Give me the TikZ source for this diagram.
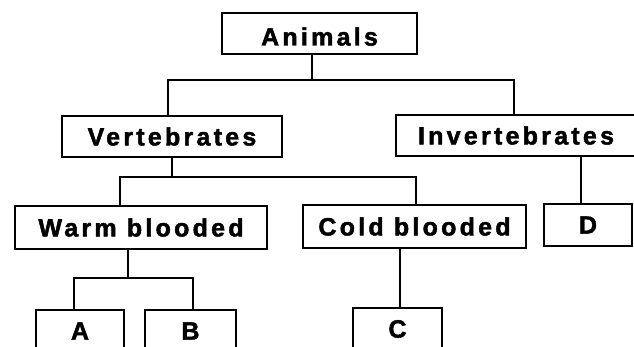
\documentclass[tikz,border=0pt]{standalone}
\usepackage{fontspec}
\setmainfont{Liberation Sans}
\newfontfamily\boxfont{Liberation Sans}[LetterSpace=13, BoldFont={Liberation Sans Bold}, BoldFeatures={FakeBold=1.8}]
\begin{document}
\begin{tikzpicture}[x=1pt,y=-1pt,
  box/.style={draw=black, line width=2.2pt, rectangle, inner sep=0pt,
    font=\boxfont\bfseries\fontsize{25}{28}\selectfont, text=black},
  link/.style={draw=black, line width=2.2pt}]
\clip (0,0) rectangle (634,347);
\fill[white] (0,0) rectangle (634,347);
% level 0
\node[box, minimum width=195pt, minimum height=41pt, text height=24pt, text depth=0pt] (ani) at (319.5,33.5) {Animals};
% level 1
\node[box, minimum width=220pt, minimum height=41pt] (ver) at (172,136.5) {Vertebrates};
\node[box, minimum width=240pt, minimum height=41pt] (inv) at (516,135.5) {Invertebrates};
% level 2
\node[box, minimum width=252pt, minimum height=43pt] (warm) at (141,227.5) {Warm blooded};
\node[box, minimum width=223pt, minimum height=43pt] (cold) at (414.5,226.5) {Cold blooded};
\node[box, minimum width=88pt, minimum height=42pt] (d) at (588,225) {D};
% level 3
\node[box, minimum width=88pt, minimum height=42pt] (a) at (80,331) {A};
\node[box, minimum width=91pt, minimum height=42pt] (b) at (190.5,331) {B};
\node[box, minimum width=89pt, minimum height=42pt] (c) at (397.5,329) {C};
% junctions
\coordinate (j0) at (312,80);
\coordinate (j1) at (172,177);
\coordinate (j2) at (128,278);
% connectors
\draw[link] (ani.south -| j0) -- (j0);
\draw[link] (ver.north -| 168,0) |- (j0) -| (inv.north -| 514,0);
\draw[link] (ver.south -| j1) -- (j1);
\draw[link] (warm.north -| 120,0) |- (j1) -| (cold.north -| 416,0);
\draw[link] (inv.south -| 581,0) -- (d.north -| 581,0);
\draw[link] (warm.south -| j2) -- (j2);
\draw[link] (a.north -| 74,0) |- (j2) -| (b.north -| 193,0);
\draw[link] (cold.south -| 400,0) -- (c.north -| 400,0);
\end{tikzpicture}
\end{document}
